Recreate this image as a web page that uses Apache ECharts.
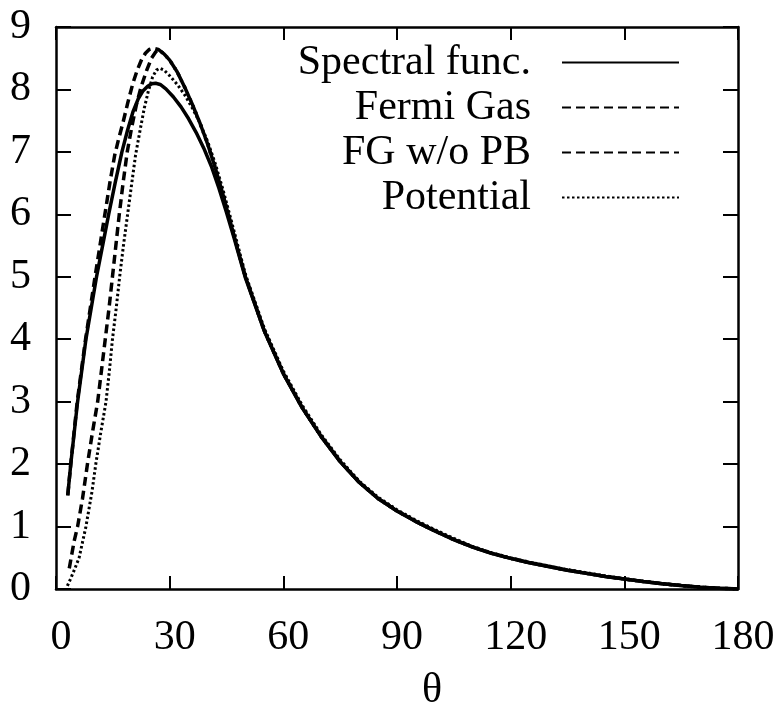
<!DOCTYPE html>
<html>
<head>
<meta charset="utf-8">
<script src="https://cdn.jsdelivr.net/npm/echarts@6/dist/echarts.min.js"></script>
<style>html,body{margin:0;padding:0;background:#fff}#c{width:781px;height:717px}</style>
</head>
<body>
<div id="c"></div>
<script>
// ---- data (theta in degrees, value) ----
const xTicks = [0, 30, 60, 90, 120, 150, 180];
const yTicks = [0, 1, 2, 3, 4, 5, 6, 7, 8, 9];
const seriesNames = ['Spectral func.', 'Fermi Gas', 'FG w/o PB', 'Potential'];

// shared large-angle tail (every 5 degrees) of the non-potential curves
const tailCommon = [[55,4.13],[60,3.45],[65,2.9],[70,2.44],[75,2.04],[80,1.71],[85,1.45],[90,1.25],[95,1.08],[100,0.93],[105,0.79],[110,0.67],[115,0.57],[120,0.49],[125,0.42],[130,0.36],[135,0.3],[140,0.25],[145,0.2],[150,0.16],[155,0.12],[160,0.085],[165,0.055],[170,0.03],[175,0.012],[180,0]];
const tailPotential = [[55,4.17],[60,3.49],[65,2.94],[70,2.47],[75,2.07],[80,1.73],[85,1.47],[90,1.27],[95,1.1],[100,0.95],[105,0.81],[110,0.68],[115,0.58],[120,0.5],[125,0.43],[130,0.37],[135,0.31],[140,0.26],[145,0.21],[150,0.165],[155,0.125],[160,0.088],[165,0.057],[170,0.031],[175,0.012],[180,0]];

const spectralHead = [[3.1,1.5],[3.9,2.0],[4.8,2.5],[5.7,3.0],[6.8,3.5],[7.9,4.0],[9.3,4.5],[10.7,5.0],[12.3,5.5],[13.9,6.0],[15.6,6.5],[17.4,7.0],[18.9,7.35],[20.3,7.64],[21.7,7.85],[23.0,7.98],[24.2,8.05],[25.3,8.09],[26.3,8.1],[27.5,8.08],[29,8.01],[31,7.88],[33,7.72],[35,7.53],[37,7.31],[39,7.06],[41,6.77],[43,6.42],[45,6.03],[47,5.62],[50,4.98]];
const fgDescent = [[27,8.64],[28.5,8.57],[30,8.47],[32,8.28],[34,8.03],[36,7.76],[38,7.46],[40,7.13],[42,6.75],[44,6.33],[46,5.88],[48,5.43],[50,5.0]];
const fermiGasHead = [[3.1,1.5],[3.9,2.0],[5.6,3.0],[7.8,4.0],[10.3,5.0],[12.9,6.0],[14.2,6.5],[15.5,6.95],[16.5,7.2],[17.6,7.45],[19.0,7.8],[20.3,8.1],[21.5,8.32],[22.6,8.48],[23.6,8.58],[24.6,8.64],[25.7,8.66]];
const fgNoPBHead = [[3.5,0.33],[4.8,0.77],[5.7,1.0],[7.0,1.45],[8.3,2.0],[9.6,2.5],[11.0,3.0],[12.0,3.5],[13.0,4.0],[14.0,4.5],[14.9,5.0],[15.8,5.5],[16.7,6.0],[17.7,6.5],[18.8,7.0],[20.0,7.4],[21.2,7.75],[22.5,8.05],[23.9,8.3],[25.2,8.5],[26.3,8.6]];
const potentialHead = [[3.0,0.05],[3.9,0.17],[5.0,0.33],[6.1,0.5],[7.0,0.75],[7.9,1.0],[9.5,1.56],[10.5,2.0],[11.8,2.5],[13.2,3.0],[14.1,3.5],[14.9,4.0],[15.9,4.5],[16.8,5.0],[17.8,5.5],[18.9,6.0],[20.0,6.5],[21.0,6.95],[22.2,7.35],[23.3,7.7],[24.4,7.98],[25.5,8.2],[26.5,8.31],[27.4,8.34],[28.5,8.31],[30,8.22],[32,8.08],[34,7.91],[36,7.7],[38,7.46],[40,7.17],[42,6.82],[44,6.41],[46,5.96],[48,5.5],[50,5.04]];

const spectralData = spectralHead.concat(tailCommon);
const fermiGasData = fermiGasHead.concat(fgDescent, tailCommon);
const fgNoPBData = fgNoPBHead.concat(fgDescent, tailCommon);
const potentialData = potentialHead.concat(tailPotential);

const FONT = 'Liberation Serif';
const chart = echarts.init(document.getElementById('c'), null, {renderer: 'canvas'});

function xAx(pos, showLabel) {
  return {
    type: 'value', position: pos, min: xTicks[0], max: xTicks[xTicks.length - 1], interval: 30,
    axisLine: {show: true, onZero: false, lineStyle: {color: '#000', width: 2.5}},
    axisTick: {show: true, inside: true, length: 13, lineStyle: {color: '#000', width: 2}},
    splitLine: {show: false},
    axisLabel: {show: showLabel, color: '#000', fontFamily: FONT, fontSize: 42, margin: 28, padding: [0, 0, 0, 10]},
    name: showLabel ? 'θ' : '', nameLocation: 'middle', nameGap: 81,
    nameTextStyle: {color: '#000', fontFamily: FONT, fontSize: 42, padding: [0, 0, 0, 70]}
  };
}
function yAx(pos, showLabel) {
  return {
    type: 'value', position: pos, min: yTicks[0], max: yTicks[yTicks.length - 1], interval: 1,
    axisLine: {show: true, onZero: false, lineStyle: {color: '#000', width: 2.5}},
    axisTick: {show: true, inside: true, length: 15, lineStyle: {color: '#000', width: 2}},
    splitLine: {show: false},
    axisLabel: {show: showLabel, color: '#000', fontFamily: FONT, fontSize: 42, margin: 25}
  };
}

const lineBase = {type: 'line', showSymbol: false, symbol: 'none', smooth: false, animation: false, color: '#000'};

chart.setOption({
  backgroundColor: '#fff',
  animation: false,
  textStyle: {fontFamily: FONT},
  grid: {left: 56, top: 27, right: 43, bottom: 118, containLabel: false},
  xAxis: [xAx('bottom', true), xAx('top', false)],
  yAxis: [yAx('left', true), yAx('right', false)],
  legend: {
    orient: 'vertical', align: 'right', right: 101, top: 40, padding: 0,
    itemWidth: 117, itemHeight: 14, itemGap: 0, selectedMode: false,
    itemStyle: {color: 'rgba(0,0,0,0)', borderColor: 'rgba(0,0,0,0)', borderWidth: 0},
    textStyle: {color: '#000', fontFamily: FONT, fontSize: 42, lineHeight: 45, padding: [0, 26, 0, 0]},
    data: seriesNames
  },
  series: [
    Object.assign({}, lineBase, {name: seriesNames[0], data: spectralData, lineStyle: {color: '#000', width: 3.5, type: 'solid'}}),
    Object.assign({}, lineBase, {name: seriesNames[1], data: fermiGasData, lineStyle: {color: '#000', width: 3.5, type: [9, 5]}}),
    Object.assign({}, lineBase, {name: seriesNames[2], data: fgNoPBData, lineStyle: {color: '#000', width: 3.5, type: [9, 5]}}),
    Object.assign({}, lineBase, {name: seriesNames[3], data: potentialData, lineStyle: {color: '#000', width: 3, type: [2.5, 2.5]}})
  ]
});
</script>
</body>
</html>
